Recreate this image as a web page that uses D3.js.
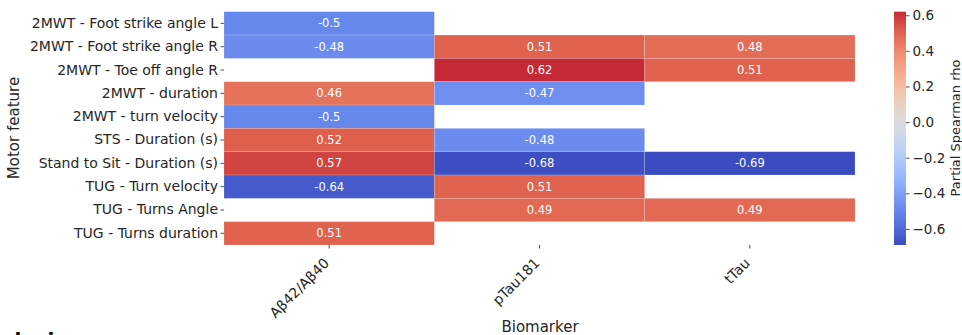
<!DOCTYPE html>
<html><head><meta charset="utf-8">
<script src="https://cdn.jsdelivr.net/npm/d3@7"></script>
<style>body{margin:0;background:#fff}svg{display:block;font-family:"DejaVu Sans",sans-serif}</style>
</head><body>
<script>
const rows = ["2MWT - Foot strike angle L", "2MWT - Foot strike angle R", "2MWT - Toe off angle R", "2MWT - duration", "2MWT - turn velocity", "STS - Duration (s)", "Stand to Sit - Duration (s)", "TUG - Turn velocity", "TUG - Turns Angle", "TUG - Turns duration"];
const biomarkers = ["Aβ42/Aβ40", "pTau181", "tTau"];
const abeta = [-0.5, -0.48, null, 0.46, -0.5, 0.52, 0.57, -0.64, null, 0.51];
const ptau = [null, 0.51, 0.62, -0.47, null, -0.48, -0.68, 0.51, 0.49, null];
const ttau = [null, 0.48, 0.51, null, null, null, -0.69, null, 0.49, null];
const cbTicks = [0.6, 0.4, 0.2, 0.0, -0.2, -0.4, -0.6];

const series = [abeta, ptau, ttau];
const cells = [];
series.forEach((s, j) => s.forEach((v, i) => { if (v !== null) cells.push({r: rows[i], c: biomarkers[j], v}); }));

const W = 962, H = 335;
const svg = d3.select("body").append("svg").attr("width", W).attr("height", H);

const x = d3.scaleBand().domain(biomarkers).range([224, 855]);
const y = d3.scaleBand().domain(rows).range([11.7, 245]);

// coolwarm
const cw = d3.scaleLinear()
  .domain([0, 0.125, 0.25, 0.375, 0.5, 0.625, 0.75, 0.875, 1])
  .range(["#3b4cc0", "#6282ea", "#8db0fe", "#b8d0f9", "#dddddd", "#f5c4ad", "#f49a7b", "#de604d", "#b40426"])
  .interpolate(d3.interpolateRgb);
const allVals = cells.map(d => d.v);
const vmin = d3.min(allVals), vmax = d3.max(allVals);
const vr = Math.max(Math.abs(vmin), Math.abs(vmax));
const color = v => cw(0.5 + v / (2 * vr));

svg.append("g").selectAll("rect").data(cells).join("rect")
  .attr("x", d => x(d.c)).attr("y", d => y(d.r))
  .attr("width", x.bandwidth()).attr("height", y.bandwidth())
  .attr("fill", d => color(d.v))
  .attr("stroke", "rgba(255,255,255,0.25)").attr("stroke-width", 0.6);

svg.append("g").selectAll("text").data(cells).join("text")
  .attr("x", d => x(d.c) + x.bandwidth() / 2)
  .attr("y", d => y(d.r) + y.bandwidth() / 2)
  .attr("dy", "0.35em").attr("text-anchor", "middle")
  .attr("fill", "#fff").attr("font-size", 11.5)
  .text(d => String(d.v));

const tickFont = 14;
// y axis
const ya = svg.append("g").attr("transform", "translate(224,0)")
  .call(d3.axisLeft(y).tickSize(3.5).tickPadding(2.5));
ya.select(".domain").remove();
ya.selectAll("line").attr("stroke", "#222").attr("stroke-width", 0.8);
ya.selectAll("text").attr("font-size", tickFont).attr("fill", "#262626").attr("font-family", "DejaVu Sans");

// x axis
const xa = svg.append("g").attr("transform", "translate(0,245)")
  .call(d3.axisBottom(x).tickSize(3.5).tickPadding(3));
xa.select(".domain").remove();
xa.selectAll("line").attr("stroke", "#222").attr("stroke-width", 0.8);
xa.selectAll("text").attr("font-size", tickFont).attr("fill", "#262626").attr("font-family", "DejaVu Sans")
  .attr("text-anchor", "end").attr("dy", null).attr("y", null)
  .attr("transform", "translate(1,19) rotate(-45)");

svg.append("text").attr("transform", "translate(19,128) rotate(-90)")
  .attr("text-anchor", "middle").attr("font-size", 15).attr("fill", "#262626").text("Motor feature");
svg.append("text").attr("x", 540).attr("y", 332)
  .attr("text-anchor", "middle").attr("font-size", 15).attr("fill", "#262626").text("Biomarker");

// colorbar
const cbX = 894, cbW = 12;
const cy = d3.scaleLinear().domain([vmin, vmax]).range([245, 11.7]);
const defs = svg.append("defs");
const grad = defs.append("linearGradient").attr("id", "cb").attr("x1", 0).attr("y1", 1).attr("x2", 0).attr("y2", 0);
d3.range(0, 21).forEach(k => {
  const v = vmin + (vmax - vmin) * k / 20;
  grad.append("stop").attr("offset", k / 20).attr("stop-color", color(v));
});
svg.append("rect").attr("x", cbX).attr("y", 11.7).attr("width", cbW).attr("height", 245 - 11.7).attr("fill", "url(#cb)");
const ca = svg.append("g").attr("transform", `translate(${cbX + cbW},0)`)
  .call(d3.axisRight(cy).tickValues(cbTicks).tickSize(3.5).tickPadding(3)
    .tickFormat(d => d3.format(".1f")(d).replace("-", "\u2212")));
ca.select(".domain").remove();
ca.selectAll("line").attr("stroke", "#222").attr("stroke-width", 0.8);
ca.selectAll("text").attr("font-size", 13.5).attr("fill", "#262626").attr("font-family", "DejaVu Sans");
svg.append("text").attr("transform", "translate(960,128) rotate(-90)")
  .attr("text-anchor", "middle").attr("font-size", 13).attr("fill", "#262626").text("Partial Spearman rho");

svg.append("text").attr("x", -40).attr("y", 347).attr("font-size", 20).attr("font-weight", "bold")
  .attr("fill", "#000").text("Conclusions");
</script>
</body></html>
